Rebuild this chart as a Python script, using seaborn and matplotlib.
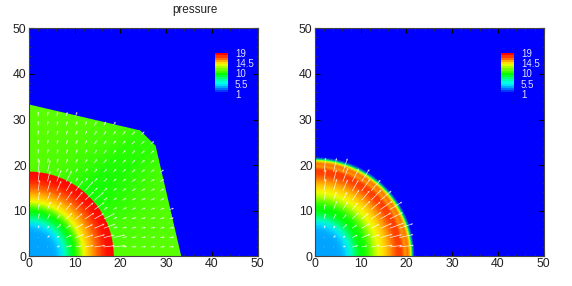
import numpy as np
import matplotlib
matplotlib.use("Agg")
import matplotlib.pyplot as plt
import matplotlib.tri as mtri
import seaborn as sns

# Radial pressure profiles
left_r = [0.01, 3, 5, 6, 7, 8, 9, 10, 11, 12, 13, 14, 15, 16, 17, 18.55]
left_p = [3.9, 3.9, 4.0, 4.2, 5.0, 6.8, 8.8, 10.2, 11.8, 14.2, 15.3, 16.2, 17.2, 18.0, 18.6, 18.9]
right_r = [0.01, 3, 5, 6, 7, 8, 9, 10, 11, 12, 13, 14, 15, 16, 17, 18, 19, 19.7, 20.4, 21, 21.3, 21.7]
right_p = [3.9, 3.9, 4.0, 4.2, 5.0, 6.6, 8.4, 9.8, 10.3, 11.5, 13.0, 14.2, 15.0, 15.8, 16.8, 17.8, 17.9, 16.3, 17.0, 14.0, 8.0, 1.0]

# Outer edge of the left plateau, with the pressure along it and along the shock behind it
poly_x = [33.2, 27.6, 24.3, 0.0]
poly_y = [0.0, 24.2, 27.5, 33.2]
poly_steps = [8, 1, 8]
poly_p = [11.6, 11.6, 11.5, 11.5, 11.4, 11.4, 11.3, 11.1, 10.8, 10.9, 11.2, 11.3, 11.4, 11.5, 11.5, 11.6, 11.6, 11.6]
shock_p = [11.5, 11.5, 11.4, 11.3, 11.2, 10.9, 10.6, 10.4, 10.3, 10.3, 10.5, 10.8, 11.0, 11.2, 11.3, 11.4, 11.5, 11.5]

# Velocity bands: each arrow takes the speed read for its band
left_edges = [0, 5, 8, 11, 14, 17, 19.2, 40]
left_speed = [0.15, 0.7, 1.3, 1.9, 2.4, 2.7, 1.0]
right_edges = [0, 5, 8, 11, 14, 17, 20, 23]
right_speed = [0.15, 0.7, 1.3, 2.0, 2.7, 3.2, 3.5]

level_labels = ["19", "14.5", "10", "5.5", "1"]
legend_values = [19, 18, 17, 16, 15, 14, 13, 12, 11, 10, 9, 8, 7, 6, 5, 4, 3, 2, 1]
ticks = [0, 10, 20, 30, 40, 50]

sns.set_theme(style="ticks")
plt.rcParams["font.family"] = ["Liberation Sans", "DejaVu Sans"]

rainbow = sns.blend_palette(["#0000ff", "#00ffff", "#00ff00", "#ffff00", "#ff0000"], n_colors=256, as_cmap=True)


def polygon_nodes():
    xs, ys = [poly_x[0]], [poly_y[0]]
    for k, n in enumerate(poly_steps):
        xs.extend(np.linspace(poly_x[k], poly_x[k + 1], n + 1)[1:])
        ys.extend(np.linspace(poly_y[k], poly_y[k + 1], n + 1)[1:])
    return np.array(xs), np.array(ys)


def ring_field(ax, radii, values, angles, extra=()):
    # nodes on rings and spokes, coloured by tripcolor
    x = np.outer(radii, np.cos(angles)).ravel()
    y = np.outer(radii, np.sin(angles)).ravel()
    p = np.repeat(values, len(angles)).astype(float)
    rings = len(radii)
    for ex, ey, ep in extra:
        x = np.concatenate([x, ex])
        y = np.concatenate([y, ey])
        p = np.concatenate([p, ep])
        rings += 1
    n = len(angles)
    tris = []
    for i in range(rings - 1):
        for j in range(n - 1):
            a, b = i * n + j, i * n + j + 1
            c, d = a + n, b + n
            tris += [[a, b, c], [b, d, c]]
    tri = mtri.Triangulation(x, y, tris)
    ax.tripcolor(tri, p, shading="gouraud", cmap=rainbow, vmin=1, vmax=19)


def arrows(ax, edges, speeds, limit):
    gx, gy = np.meshgrid(np.arange(1, 26) * 2.05, np.arange(1, 26) * 2.05)
    gx, gy = gx.ravel(), gy.ravel()
    r = np.hypot(gx, gy)
    keep = limit(gx, gy, r)
    gx, gy, r = gx[keep], gy[keep], r[keep]
    s = np.array(speeds)[np.digitize(r, edges) - 1]
    ax.quiver(gx, gy, s * gx / r, s * gy / r, angles="xy", scale_units="xy", scale=1,
              color="white", width=0.0032, headwidth=3, headlength=3, headaxislength=2.6,
              pivot="tail", alpha=0.85, zorder=3)


def inside_left(x, y, r):
    return (y <= 33.2 - x * 0.235) & (x <= 33.2 - y * 0.232) & (x + y <= 51.8)


fig = plt.figure(figsize=(5.72, 2.86), dpi=100)
ax1 = fig.add_axes([28.7 / 572, 1 - 256.3 / 286, 229 / 572, 228 / 286])
ax2 = fig.add_axes([314.7 / 572, 1 - 256.3 / 286, 229 / 572, 228 / 286])

ox, oy = polygon_nodes()
spokes = np.arctan2(oy, ox)
shock_x, shock_y = 18.75 * np.cos(spokes), 18.75 * np.sin(spokes)
ring_field(ax1, left_r, left_p, spokes,
           extra=[(shock_x, shock_y, np.array(shock_p)), (ox, oy, np.array(poly_p))])
ring_field(ax2, right_r, right_p, np.radians(np.arange(0, 91, 2)))

arrows(ax1, left_edges, left_speed, inside_left)
arrows(ax2, right_edges, right_speed, lambda x, y, r: r < 19.6)

for ax in (ax1, ax2):
    ax.set_facecolor("#0000ff")
    ax.set_xlim(0, 50)
    ax.set_ylim(0, 50)
    ax.set_xticks(ticks)
    ax.set_yticks(ticks)
    ax.set_xticks(np.arange(0, 51, 2), minor=True)
    ax.set_yticks(np.arange(0, 51, 2), minor=True)
    ax.tick_params(which="major", direction="in", length=3.5, width=0.8, top=True, right=True,
                   labelsize=8.8, pad=1.5, color="black", labelcolor="#222222")
    ax.tick_params(which="minor", direction="in", length=1.8, width=0.5, top=True, right=True,
                   color="#333333")
    for s in ax.spines.values():
        s.set_linewidth(0.8)
        s.set_color("#444444")

    # pressure legend inside the axes
    box = ax.get_position()
    cax = fig.add_axes([box.x0 + 186.3 / 572, 1 - 94.3 / 286, 12.7 / 572, 41 / 286])
    sns.heatmap(np.array(legend_values).reshape(-1, 1), ax=cax, cmap=rainbow, vmin=1, vmax=19,
                cbar=False, xticklabels=False, yticklabels=False)
    ypos = [53.7, 64.0, 74.2, 84.5, 95.0]
    for lab, yp in zip(level_labels, ypos):
        fig.text(box.x0 + 206.3 / 572, 1 - yp / 286, lab, color="#e0e0ff", fontsize=7, va="center", ha="left")

fig.text(195 / 572, 1 - 10 / 286, "pressure", fontsize=8.4, ha="center", va="center", color="#222222")

fig.savefig("out.png", dpi=100)
